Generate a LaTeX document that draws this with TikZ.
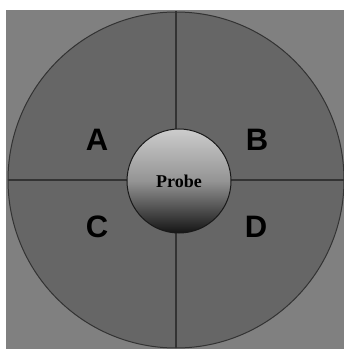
\documentclass[tikz,border=0pt]{standalone}
\usepackage{fontspec}
\setmainfont{Liberation Serif}
\newfontfamily\labfont{Liberation Sans}
\begin{document}
\begin{tikzpicture}[x=1pt,y=1pt,
  quad/.style={font=\labfont\bfseries\fontsize{31}{31}\selectfont, text=black},
  divline/.style={draw=black!80, line width=1.3pt}]
\useasboundingbox (0,0) rectangle (344,349);
\fill[white] (0,0) rectangle (344,349);
\fill[black!50] (6,0) rectangle (344,339);
\node[circle, minimum size=336pt, inner sep=0pt, fill=black!60, draw=black!80, line width=1pt] (outer) at (176,169) {};
\draw[divline] (outer.north) -- (outer.south);
\draw[divline] (outer.west) -- (outer.east);
\node[circle, minimum size=104pt, inner sep=0pt, draw=black!90, line width=1pt,
  top color=black!20, bottom color=black!92, middle color=black!42,
  font=\bfseries\fontsize{18}{18}\selectfont, text=black] (probe) at (179,168) {Probe};
\node[quad] (A) at (97,209) {A};
\node[quad] (B) at (257,209) {B};
\node[quad] (C) at (97,122) {C};
\node[quad] (D) at (256,122) {D};
\end{tikzpicture}
\end{document}
